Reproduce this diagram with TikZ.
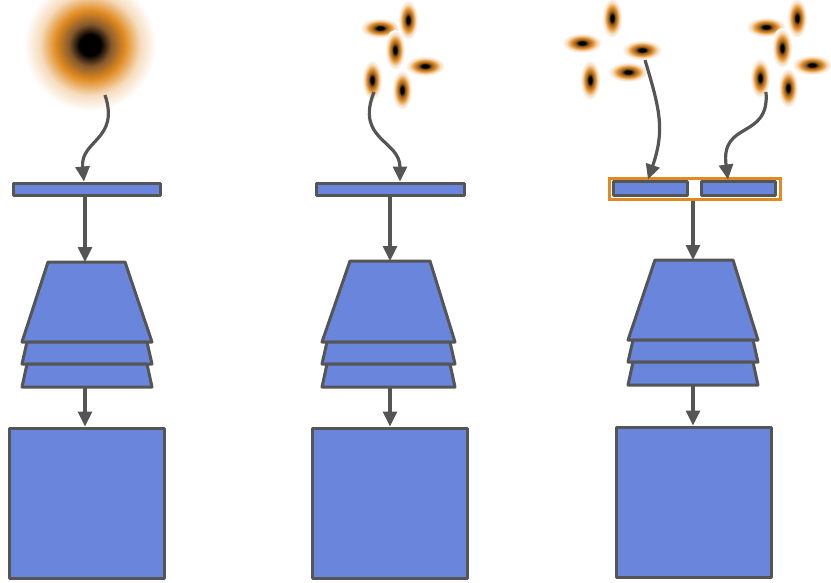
\documentclass[tikz,border=0pt]{standalone}
\usetikzlibrary{arrows.meta,shapes.geometric}
\definecolor{bfill}{HTML}{6A85DC}
\definecolor{edge}{HTML}{555555}
\definecolor{org}{HTML}{E08A20}
\pgfdeclareradialshading{blob}{\pgfpoint{0cm}{0cm}}{color(0bp)=(black); color(4bp)=(black); color(8bp)=(brown!70!black); color(13bp)=(org); color(19bp)=(org!30); color(25bp)=(white); color(50bp)=(white)}
\begin{document}
\begin{tikzpicture}[x=1pt,y=-1pt,
  part/.style={draw=edge,fill=bfill,line width=3pt,line join=round},
  arr/.style={draw=edge,line width=3.2pt,-{Triangle[length=15pt,width=14pt]}},
  blobh/.style={shading=blob,ellipse,minimum width=40pt,minimum height=20pt,inner sep=0pt},
  blobv/.style={shading=blob,ellipse,minimum width=20pt,minimum height=40pt,inner sep=0pt}]
\useasboundingbox (0,0) rectangle (831,582);
\shade[shading=blob] (90,45) circle (66);
% column 1
\node[part,minimum width=147pt,minimum height=12pt,inner sep=0pt] (bar1) at (86.5,189) {};
\path[part] (48,262)--(125,262)--(152,342)--(22,342)--cycle;
\path[part] (27,342)--(147,342)--(152,364)--(22,364)--cycle;
\path[part] (27,364)--(147,364)--(152,387)--(22,387)--cycle;
\coordinate (t1) at (85,262); \coordinate (b1) at (85,387);
\node[part,minimum width=155pt,minimum height=150pt,inner sep=0pt] (sq1) at (86.5,503) {};
\coordinate (w1) at (105,95);
\draw[arr] (w1) .. controls (120,140) and (80,140) .. (bar1.north -| 84,0);
\draw[arr] (bar1.south -| 85,0) -- (t1);
\draw[arr] (b1) -- (sq1.north -| 85,0);
% column 2
\node[blobh] (c2a) at (380,28) {}; \node[blobv] (c2b) at (408,20) {};
\node[blobv] (c2c) at (395,50) {}; \node[blobh] (c2d) at (425,66) {};
\node[blobv] (c2e) at (372,80) {}; \node[blobv] (c2f) at (402,90) {};
\node[part,minimum width=148pt,minimum height=12pt,inner sep=0pt] (bar2) at (390,189) {};
\path[part] (350,261)--(430,261)--(455,342)--(322,342)--cycle;
\path[part] (327,342)--(450,342)--(455,364)--(322,364)--cycle;
\path[part] (327,364)--(450,364)--(455,387)--(322,387)--cycle;
\coordinate (t2) at (390,261); \coordinate (b2) at (390,387);
\node[part,minimum width=155pt,minimum height=150pt,inner sep=0pt] (sq2) at (389.5,503) {};
\coordinate (w2) at (374,92);
\draw[arr] (w2) .. controls (355,140) and (400,140) .. (bar2.north -| 400,0);
\draw[arr] (bar2.south -| 390,0) -- (t2);
\draw[arr] (b2) -- (sq2.north -| 390,0);
% column 3
\node[blobh] (d1) at (582,43) {}; \node[blobv] (d2) at (612,18) {};
\node[blobh] (d3) at (642,50) {}; \node[blobh] (d4) at (628,72) {};
\node[blobv] (d5) at (590,80) {};
\node[blobh] (e1) at (766,27) {}; \node[blobv] (e2) at (797,18) {};
\node[blobv] (e3) at (782,48) {}; \node[blobh] (e4) at (812,65) {};
\node[blobv] (e5) at (760,78) {}; \node[blobv] (e6) at (788,88) {};
\node[draw=org,fill=white,line width=3pt,minimum width=171pt,minimum height=21pt,inner sep=0pt] (box3) at (694.5,188.5) {};
\node[part,minimum width=74pt,minimum height=14pt,inner sep=0pt] (bar3a) at (650,188) {};
\node[part,minimum width=74pt,minimum height=14pt,inner sep=0pt] (bar3b) at (738,188) {};
\path[part] (655,260)--(733,260)--(758,340)--(628,340)--cycle;
\path[part] (633,340)--(753,340)--(758,362)--(628,362)--cycle;
\path[part] (633,362)--(753,362)--(758,385)--(628,385)--cycle;
\coordinate (t3) at (693,260); \coordinate (b3) at (693,385);
\node[part,minimum width=155pt,minimum height=150pt,inner sep=0pt] (sq3) at (693.5,502) {};
\draw[arr] (d3) .. controls (660,110) and (665,130) .. (bar3a.north -| 648,0);
\draw[arr] (766,92) .. controls (770,140) and (720,120) .. (bar3b.north -| 728,0);
\draw[arr] (box3.south -| 693,0) -- (t3);
\draw[arr] (b3) -- (sq3.north -| 693,0);
\end{tikzpicture}
\end{document}
